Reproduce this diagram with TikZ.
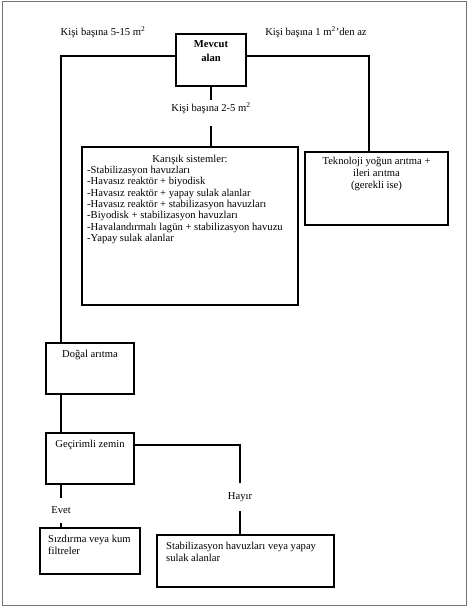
\documentclass[tikz,border=0pt]{standalone}
\usepackage{fontspec}
\setmainfont{Liberation Serif}
\usetikzlibrary{calc}
\begin{document}
\begin{tikzpicture}[x=1pt,y=-1pt,
  txt/.style={font=\fontsize{10.6}{11.3}\selectfont, inner sep=0pt},
  boxs/.style={draw, line width=1.2pt, inner sep=0pt},
  conn/.style={line width=1.8pt},
  frame/.style={draw=black!55, line width=1pt}]
\useasboundingbox (0,0) rectangle (468,607);
\draw[frame] (2,2) rectangle (466,605);
% boxes
\node[boxs, minimum width=70, minimum height=52] (mevcut) at (211,60) {};
\node[boxs, minimum width=216, minimum height=158] (karisik) at (190,226) {};
\node[boxs, minimum width=143, minimum height=73] (tek) at (376.5,188.5) {};
\node[boxs, minimum width=88, minimum height=51] (dogal) at (90,368.5) {};
\node[boxs, minimum width=88, minimum height=51] (gecir) at (90,458.5) {};
\node[boxs, minimum width=100, minimum height=46] (sizd) at (90,551) {};
\node[boxs, minimum width=177, minimum height=52] (stab) at (245.5,561) {};
% box texts
\node[txt, font=\fontsize{10.6}{14}\selectfont\bfseries, align=center, anchor=north] (tmevcut) at (211,40) {Mevcut\\alan};
\node[txt, anchor=north] (tkar) at (190,155) {Karışık sistemler:};
\node[txt, align=left, anchor=north west] (tlist) at (87,166) {-Stabilizasyon havuzları\\-Havasız reaktör + biyodisk\\-Havasız reaktör + yapay sulak alanlar\\-Havasız reaktör + stabilizasyon havuzları\\-Biyodisk + stabilizasyon havuzları\\-Havalandırmalı lagün + stabilizasyon havuzu\\-Yapay sulak alanlar};
\node[txt, align=center, anchor=north, font=\fontsize{10.6}{12.2}\selectfont] (ttek) at (376.5,157) {Teknoloji yoğun arıtma +\\ileri arıtma\\(gerekli ise)};
\node[txt, anchor=north] (tdogal) at (90,350) {Doğal arıtma};
\node[txt, anchor=north] (tgecir) at (90,440) {Geçirimli zemin};
\node[txt, align=left, anchor=north west, font=\fontsize{10.6}{12.2}\selectfont] (tsizd) at (48,535) {Sızdırma veya kum\\filtreler};
\node[txt, align=left, anchor=north west, font=\fontsize{10.6}{12.2}\selectfont] (tstab) at (166,542) {Stabilizasyon havuzları veya yapay\\sulak alanlar};
% labels
\node[txt, anchor=base] (l515) at (103,35.5) {Kişi başına 5-15 m\textsuperscript{2}};
\node[txt, anchor=base] (l1) at (316,35.5) {Kişi başına 1 m\textsuperscript{2}'den az};
\node[txt, anchor=base] (l25) at (211,111.5) {Kişi başına 2-5 m\textsuperscript{2}};
\node[txt, minimum height=28] (hayir) at (240,497) {Hayır};
\node[txt, minimum height=25] (evet) at (61,510.5) {Evet};
% connectors
\draw[conn] ([yshift=4pt]mevcut.west) -| ([xshift=-29pt]dogal.north);
\draw[conn] ([yshift=4pt]mevcut.east) -| ([xshift=-7.5pt]tek.north);
\draw[conn] (mevcut.south) -- ++(0,13);
\draw[conn] (karisik.north -| mevcut.south) -- ++(0,-20);
\draw[conn] ([xshift=-29pt]dogal.south) -- ([xshift=-29pt]gecir.north);
\draw[conn] ([yshift=-12.5pt]gecir.north east) -| (hayir.north);
\draw[conn] (hayir.south) -- (stab.north -| hayir.south);
\draw[conn] ([xshift=-29pt]gecir.south) -- (evet.north);
\draw[conn] (evet.south) -- (sizd.north -| evet.south);
\end{tikzpicture}
\end{document}
